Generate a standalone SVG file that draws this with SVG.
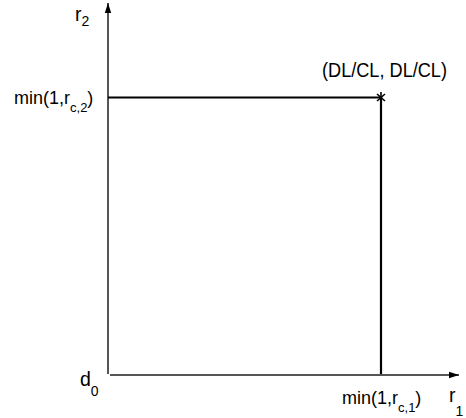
<svg xmlns="http://www.w3.org/2000/svg" width="466" height="418" viewBox="0 0 466 418">
<style>
text{font-family:"Liberation Sans",Arial,sans-serif;font-size:19.5px;fill:#000}
.sub{font-size:14px}
.mn{font-size:18px}
.mn .sub{font-size:13px}
.axis{stroke:#555;stroke-width:2;fill:none}
.line{stroke:#000;stroke-width:2.2;fill:none}
</style>
<defs>
<marker id="arr" markerWidth="11" markerHeight="8" refX="10" refY="4" orient="auto" markerUnits="userSpaceOnUse">
<path d="M0,0.8 L10,4 L0,7.2 Z" fill="#000"/>
</marker>
</defs>
<rect width="466" height="418" fill="#fff"/>
<g id="connectors">
<line class="axis" x1="108" y1="374" x2="108" y2="3" marker-end="url(#arr)"/>
<line class="axis" x1="110" y1="375" x2="459" y2="375" marker-end="url(#arr)"/>
<line class="line" x1="108" y1="97.5" x2="381" y2="97.5"/>
<line class="line" x1="381" y1="97.5" x2="381" y2="374"/>
</g>
<g id="point">
<g stroke="#000" stroke-width="1.6">
<line x1="381" y1="92" x2="381" y2="103"/>
<line x1="377" y1="94" x2="385" y2="101"/>
<line x1="385" y1="94" x2="377" y2="101"/>
</g>
<text x="322" y="77" textLength="125" lengthAdjust="spacingAndGlyphs">(DL/CL, DL/CL)</text>
</g>
<g id="label-r2"><text x="75" y="21">r<tspan class="sub" dy="5">2</tspan></text></g>
<g id="label-minr2"><text class="mn" x="14" y="104">min(1,r<tspan class="sub" dy="8">c,2</tspan><tspan dy="-8">)</tspan></text></g>
<g id="label-d0"><text x="80" y="386">d<tspan class="sub" dy="10">0</tspan></text></g>
<g id="label-minr1"><text class="mn" x="342" y="404">min(1,r<tspan class="sub" dy="8">c,1</tspan><tspan dy="-8">)</tspan></text></g>
<g id="label-r1"><text x="449" y="402">r<tspan class="sub" dy="14">1</tspan></text></g>
</svg>
